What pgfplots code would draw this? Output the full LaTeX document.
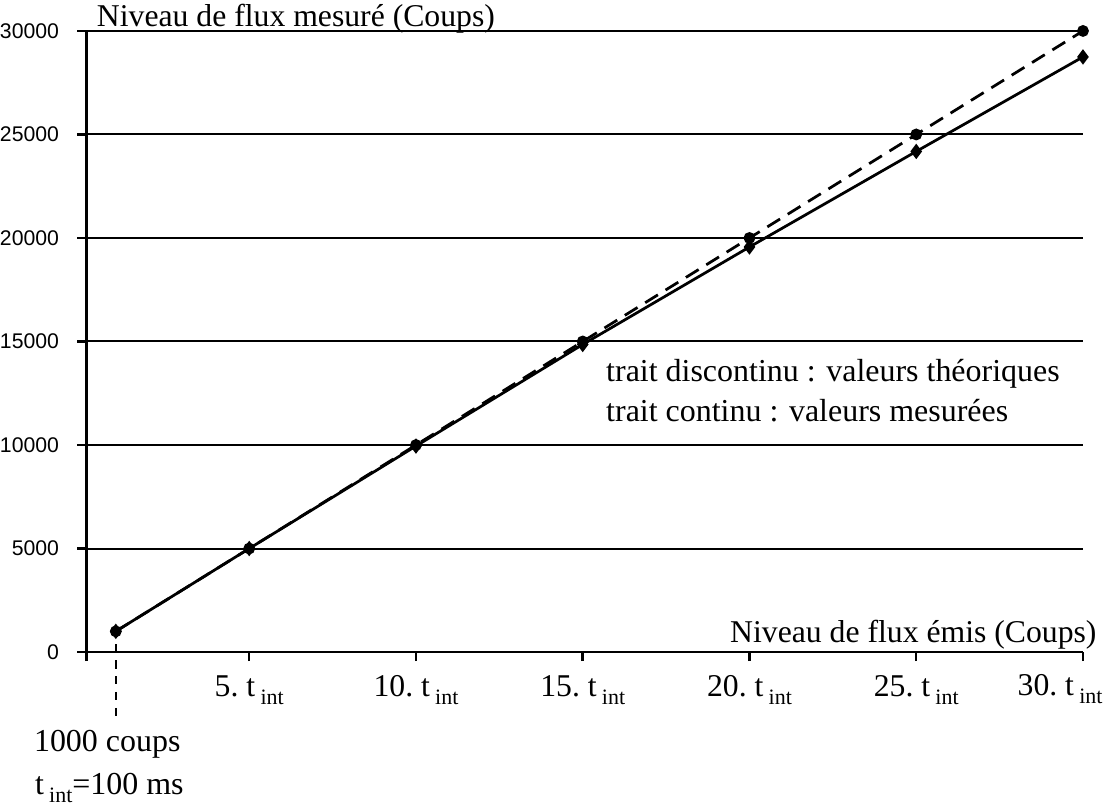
\documentclass[border=0pt]{standalone}
\usepackage{fontspec}
\setmainfont{Liberation Serif}
\newfontfamily\arialfont{Liberation Sans}
\usepackage{pgfplots}
\pgfplotsset{compat=1.18}

% x tick label: "5. t" with a lowered "int"
\newcommand{\tint}[1]{#1.\ t\,\raisebox{-3.2pt}{\fontsize{8.8}{8.8}\selectfont int}}

\begin{document}
\begin{tikzpicture}
\begin{axis}[
    scale only axis,
    width=399.2pt,
    height=248.8pt,
    xmin=0.12, xmax=30,
    ymin=0, ymax=30000,
    clip=false,
    axis x line=bottom,
    axis y line=left,
    axis line style={-, black, line width=1.1pt},
    xtick={0.12,5,10,15,20,25,30},
    xticklabels={,\tint{5},\tint{10},\tint{15},\tint{20},\tint{25},},
    ytick={0,5000,10000,15000,20000,25000,30000},
    yticklabels={0,5000,10000,15000,20000,25000,30000},
    scaled y ticks=false,
    tick align=outside,
    major tick length=3.6pt,
    tick style={black, line width=1pt},
    xticklabel style={anchor=base, inner sep=0pt, yshift=-14.4pt,
        font=\fontsize{12.7}{12.7}\selectfont},
    yticklabel style={anchor=east, inner sep=0pt, xshift=-7.2pt,
        font=\arialfont\fontsize{8.5}{8.5}\selectfont},
    ymajorgrids=true,
    grid style={black, line width=0.8pt},
]
% theoretical values (dashed)
\addplot[black, line width=1.1pt, dash pattern=on 6pt off 3.6pt,
    mark=*, mark size=1.8pt, mark options={solid}]
    coordinates {(1,1000) (5,5000) (10,10000) (15,15000) (20,20000) (25,25000) (30,30000)};
% measured values (solid)
\addplot[black, line width=1.1pt, mark=diamond*, mark size=2.2pt]
    coordinates {(1,1000) (5,5000) (10,9950) (15,14855) (20,19565) (25,24180) (30,28745)};
% marker line for the first point
\addplot[black, line width=1pt, dash pattern=on 3.4pt off 3pt]
    coordinates {(1,385) (1,-3376)};

% last tick label, pulled left to stay inside the picture
\node[anchor=base east, inner sep=0pt, font=\fontsize{12.7}{12.7}\selectfont]
    at (axis cs:30.6,-2122) {\tint{30}};

\node[anchor=base west, inner sep=0pt, font=\fontsize{12.7}{12.7}\selectfont]
    at (axis cs:0.42,30193) {Niveau de flux mesuré (Coups)};
\node[anchor=base east, inner sep=0pt, font=\fontsize{12.7}{12.7}\selectfont]
    at (axis cs:30.42,482) {Niveau de flux émis (Coups)};
\node[anchor=base west, inner sep=0pt, font=\fontsize{12.8}{12.8}\selectfont]
    at (axis cs:15.69,13070) {trait discontinu : valeurs théoriques};
\node[anchor=base west, inner sep=0pt, font=\fontsize{12.8}{12.8}\selectfont]
    at (axis cs:15.69,11141) {trait continu : valeurs mesurées};
\node[anchor=base west, inner sep=0pt, font=\fontsize{12.8}{12.8}\selectfont]
    at (axis cs:-1.467,-4823) {1000 coups};
\node[anchor=base west, inner sep=0pt, font=\fontsize{12.8}{12.8}\selectfont]
    at (axis cs:-1.437,-6897) {t\,\raisebox{-3.2pt}{\fontsize{8.8}{8.8}\selectfont int}=100 ms};

\path (axis cs:-2.425,-7524) rectangle (axis cs:30.87,31495);
\end{axis}
\end{tikzpicture}
\end{document}
